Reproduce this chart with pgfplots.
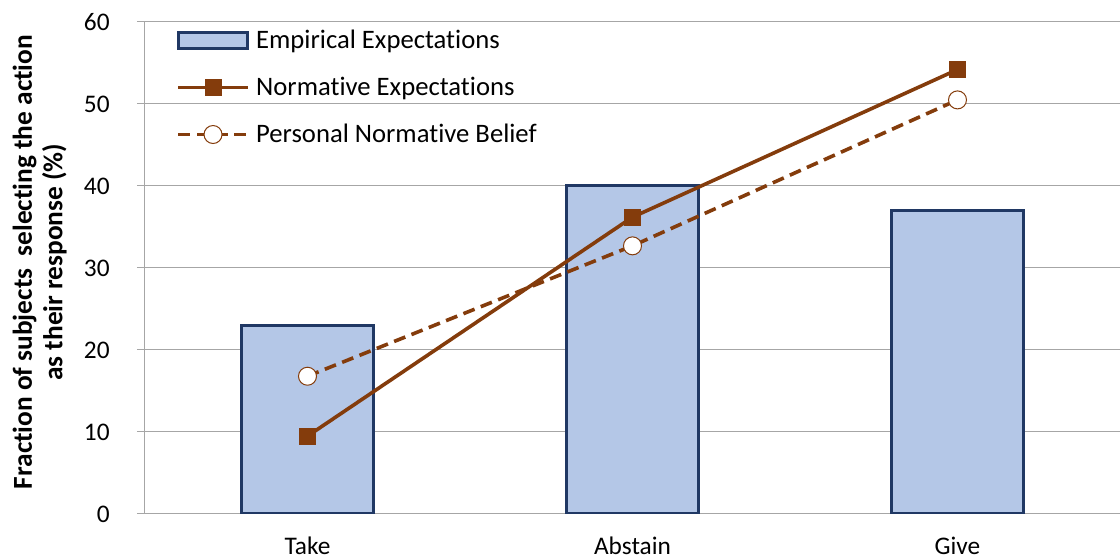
\documentclass[border=0pt]{standalone}
\usepackage{fontspec}
\setmainfont{Carlito}[Ligatures=NoCommon]
\usepackage{pgfplots}
\pgfplotsset{compat=1.18}
\definecolor{barfill}{HTML}{B4C7E7}
\definecolor{baredge}{HTML}{203864}
\definecolor{linec}{HTML}{843C0C}
\definecolor{gridc}{HTML}{A6A6A6}
\pgfplotsset{
  barleg/.style={legend image code/.code={\draw[##1] (0pt,-6pt) rectangle (52pt,6pt);}},
  lineleg/.style={legend image code/.code={\draw[mark repeat=2,mark phase=2,##1] plot coordinates {(0pt,0pt)(26pt,0pt)(52pt,0pt)};}},
}

\begin{document}
\begin{tikzpicture}
  \begin{axis}[
    scale only axis, width=731.25pt, height=369pt,
    xmin=-0.5, xmax=2.5, ymin=0, ymax=60,
    xtick={0,1,2}, xticklabels={Take,Abstain,Give},
    ytick={0,10,...,60},
    axis lines=left, axis line style={gridc, line width=0.75pt, -},
    ymajorgrids, grid style={gridc, line width=0.75pt},
    tick align=outside, major tick length=6pt,
    ytick style={gridc, line width=0.75pt}, xtick style={draw=none},
    tick label style={font=\fontsize{19}{22}\selectfont},
    yticklabel style={xshift=-17pt},
    xticklabel style={yshift=-7.5pt},
    /pgf/number format/assume math mode=true,
    ylabel={Fraction of subjects\ \ selecting the action\\as their response (\%)},
    ylabel style={font=\bfseries\fontsize{20.5}{23}\selectfont, align=center,
      at={(axis description cs:-0.108,0.512)}, anchor=center},
    legend style={at={(0.028,0.995)}, anchor=north west, draw=none, fill=none,
      font=\fontsize{20}{22}\selectfont, row sep=16pt,
      /tikz/every odd column/.append style={column sep=3pt}},
    legend cell align=left,
  ]
    \addplot[ybar, bar width=99pt, fill=barfill, draw=baredge, line width=2.25pt, barleg]
      coordinates {(0,23) (1,40) (2,37)};
    \addlegendentry{Empirical Expectations}

    \addplot[linec, line width=2.7pt, mark=square*, mark size=6pt,
      mark options={solid, fill=linec, line width=0.5pt}, lineleg]
      coordinates {(0,9.5) (1,36.2) (2,54.2)};
    \addlegendentry{Normative Expectations}

    \addplot[linec, line width=2.7pt, dash pattern=on 9pt off 5pt, mark=*, mark size=6.75pt,
      mark options={solid, fill=white, line width=0.75pt}, lineleg]
      coordinates {(0,16.8) (1,32.7) (2,50.5)};
    \addlegendentry{Personal Normative Belief}
  \end{axis}
  \pgfresetboundingbox
  \path[use as bounding box] (-108.75pt,-33.75pt) rectangle (731.25pt,385.5pt);
\end{tikzpicture}
\end{document}
